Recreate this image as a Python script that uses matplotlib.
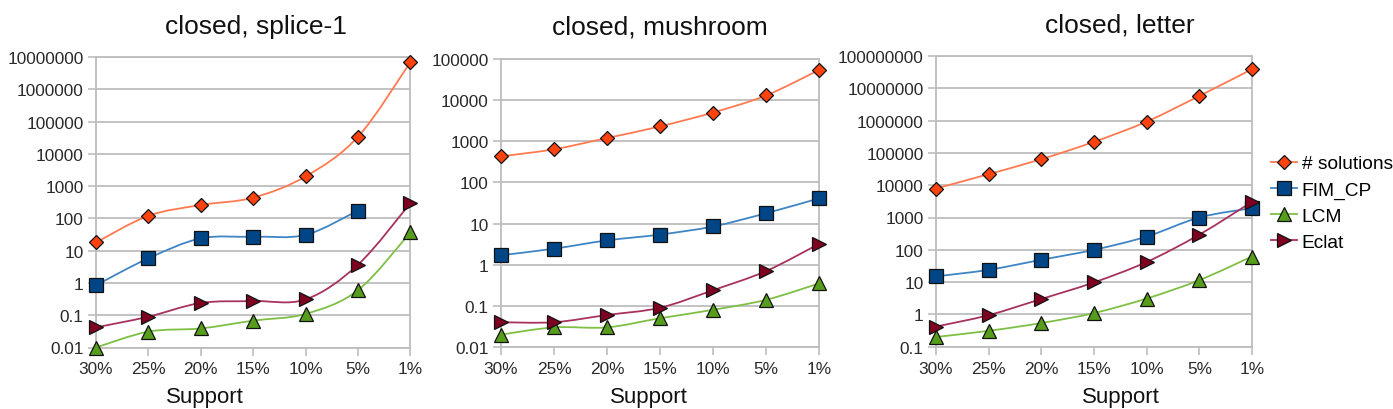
import numpy as np
import matplotlib
matplotlib.use("Agg")
import matplotlib.pyplot as plt
from matplotlib.path import Path
from matplotlib.patches import PathPatch
from matplotlib.lines import Line2D
from matplotlib.ticker import FixedLocator, FuncFormatter, NullLocator

plt.rcParams['font.family'] = ['Liberation Sans', 'DejaVu Sans']

# ---------------- data ----------------
supports = ["30%", "25%", "20%", "15%", "10%", "5%", "1%"]
series_names = ["# solutions", "FIM_CP", "LCM", "Eclat"]

splice_solutions = [18, 120, 260, 440, 2000, 34000, 7000000]
splice_fimcp = [0.85, 5.8, 24, 27, 31, 175, np.nan]
splice_lcm = [0.01, 0.031, 0.039, 0.068, 0.11, 0.6, 37]
splice_eclat = [0.042, 0.09, 0.24, 0.275, 0.31, 3.7, 300]

mushroom_solutions = [430, 640, 1200, 2300, 5000, 13000, 54000]
mushroom_fimcp = [1.7, 2.45, 3.9, 5.4, 8.5, 17.8, 41]
mushroom_lcm = [0.02, 0.03, 0.03, 0.05, 0.08, 0.14, 0.35]
mushroom_eclat = [0.04, 0.04, 0.06, 0.09, 0.24, 0.7, 3.2]

letter_solutions = [7900, 22000, 64000, 220000, 930000, 5800000, 39000000]
letter_fimcp = [15, 24, 49, 100, 257, 1000, 1950]
letter_lcm = [0.2, 0.31, 0.54, 1.1, 3.1, 11.5, 62]
letter_eclat = [0.42, 0.95, 3.0, 9.8, 42, 295, 3050]

panel_titles = ["closed, splice-1", "closed, mushroom", "closed, letter"]
panel_data = [
    [splice_solutions, splice_fimcp, splice_lcm, splice_eclat],
    [mushroom_solutions, mushroom_fimcp, mushroom_lcm, mushroom_eclat],
    [letter_solutions, letter_fimcp, letter_lcm, letter_eclat],
]
panel_ylims = [(0.01, 1e7), (0.01, 1e5), (0.1, 1e8)]

# ---------------- style ----------------
marker_colors = ["#ff420e", "#004586", "#579d1c", "#7e0021"]
line_colors = ["#ff7a50", "#3f85c4", "#7fbf45", "#a8325e"]
markers = ["D", "s", "^", ">"]
msizes = [7.5, 9.5, 9.5, 9.5]
grid_c = "#bdbdbd"

W, H = 1393, 410
fig = plt.figure(figsize=(W / 100, H / 100), dpi=100)

# axes boxes in pixels (left, right, top, bottom)
boxes = [(96, 410.5, 58, 348.5), (501, 819, 60, 348), (936, 1252, 57, 347.7)]
title_pos = [(256, 27), (660, 28), (1120, 25)]
xlabel_pos = [205, 649, 1121]


def smooth_path(xs, ys):
    xs = np.asarray(xs, float)
    ly = np.log10(np.asarray(ys, float))
    ok = ~np.isnan(ly)
    xs, ly = xs[ok], ly[ok]
    n = len(xs)
    P = np.column_stack([xs, ly])
    verts = [P[0]]
    codes = [Path.MOVETO]
    for i in range(n - 1):
        p0 = P[max(i - 1, 0)]
        p1 = P[i]
        p2 = P[i + 1]
        p3 = P[min(i + 2, n - 1)]
        c1 = p1 + (p2 - p0) / 6.0
        c2 = p2 - (p3 - p1) / 6.0
        verts += [c1, c2, p2]
        codes += [Path.CURVE4] * 3
    verts = np.array(verts)
    verts[:, 1] = 10 ** verts[:, 1]
    return Path(verts, codes)


def fmt(v, pos):
    if v >= 1:
        return "%d" % int(round(v))
    return ("%.10f" % v).rstrip("0")


x = np.arange(len(supports))
for k in range(3):
    l, r, t, b = boxes[k]
    ax = fig.add_axes([l / W, 1 - b / H, (r - l) / W, (b - t) / H])
    ax.set_yscale("log")
    ax.set_xlim(0, len(supports) - 1)
    lo, hi = panel_ylims[k]
    ax.set_ylim(lo, hi)
    decs = np.arange(np.log10(lo), np.log10(hi) + 0.5)
    ax.yaxis.set_major_locator(FixedLocator(10.0 ** decs))
    ax.yaxis.set_minor_locator(NullLocator())
    ax.yaxis.set_major_formatter(FuncFormatter(fmt))
    ax.set_xticks(x)
    ax.set_xticklabels(supports)
    ax.grid(axis="y", color=grid_c, lw=1.3)
    ax.set_axisbelow(True)
    for s in ax.spines.values():
        s.set_color(grid_c)
        s.set_linewidth(1.3)
    ax.tick_params(axis="both", colors=grid_c, labelcolor="#2a2a2a",
                   labelsize=12.4, length=6, width=1.2, direction="out")
    ax.tick_params(axis="x", pad=4)
    ax.tick_params(axis="y", pad=3)

    for j, ys in enumerate(panel_data[k]):
        p = PathPatch(smooth_path(x, ys), fill=False, edgecolor=line_colors[j],
                      lw=1.3, transform=ax.transData, clip_on=False, zorder=2)
        ax.add_patch(p)
    for j, ys in enumerate(panel_data[k]):
        ax.plot(x, ys, linestyle="none", marker=markers[j], ms=msizes[j],
                mfc=marker_colors[j], mec="#111111", mew=0.9,
                clip_on=False, zorder=3 + j)

    tx, ty = title_pos[k]
    fig.text(tx / W, 1 - ty / H, panel_titles[k], ha="center", va="center",
             fontsize=19, color="#111111")
    fig.text(xlabel_pos[k] / W, 1 - 408 / H, "Support", ha="center",
             va="bottom", fontsize=16, color="#111111")

handles = [Line2D([], [], color=line_colors[j], lw=1.3, marker=markers[j],
                  ms=msizes[j], mfc=marker_colors[j], mec="#111111", mew=0.9)
           for j in range(4)]
fig.legend(handles, series_names, loc="upper left",
           bbox_to_anchor=(1271 / W, 1 - 156 / H), frameon=False,
           fontsize=13.8, handlelength=1.35, handletextpad=0.25,
           labelspacing=0.45, borderpad=0, borderaxespad=0)

fig.savefig("out.png", dpi=100)
